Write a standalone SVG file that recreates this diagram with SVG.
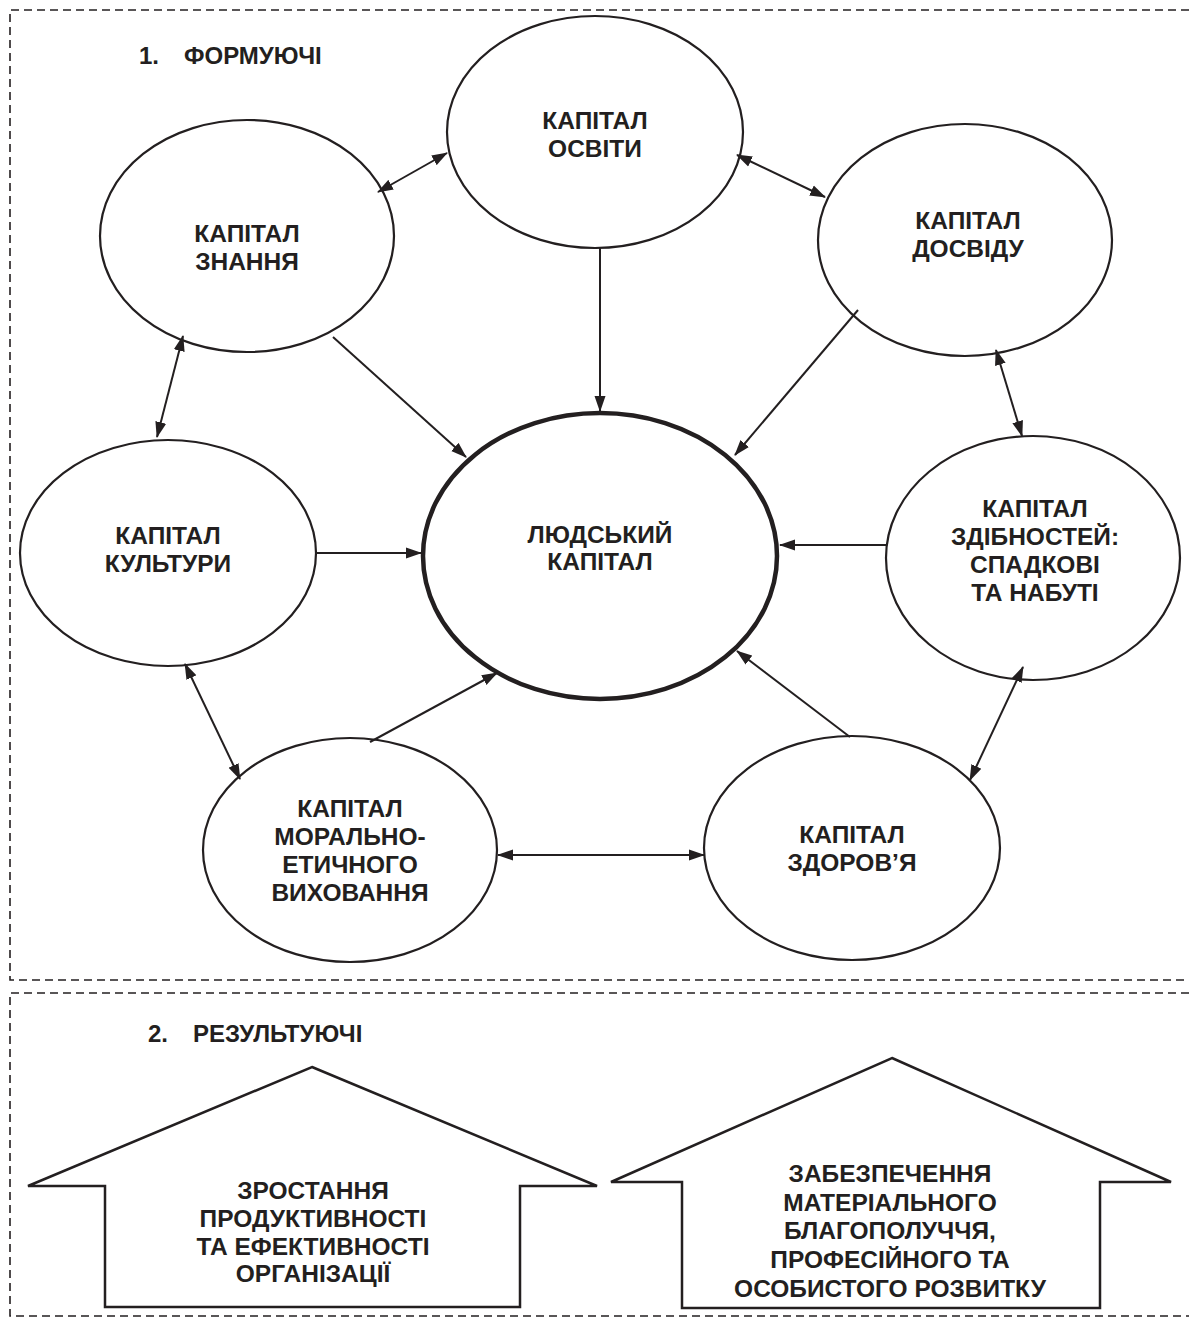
<svg xmlns="http://www.w3.org/2000/svg" width="1189" height="1324" viewBox="0 0 1189 1324">
<style>
.frame{fill:none;stroke:#231f20;stroke-width:1.6;stroke-dasharray:8 5}
.node{fill:#fff;stroke:#231f20;stroke-width:2.2}
.main{fill:#fff;stroke:#231f20;stroke-width:4.5}
.house{fill:#fff;stroke:#231f20;stroke-width:2.5;stroke-linejoin:miter}
.t{font-family:"Liberation Sans",Arial,sans-serif;font-weight:bold;font-size:24.5px;fill:#231f20;text-anchor:middle}
.h{font-family:"Liberation Sans",Arial,sans-serif;font-weight:bold;font-size:24px;fill:#231f20}
.c line{stroke:#231f20;stroke-width:2}
</style>
<defs>
<marker id="ah" markerUnits="userSpaceOnUse" markerWidth="17" markerHeight="12" refX="15" refY="6" orient="auto-start-reverse" viewBox="0 0 17 12">
<path d="M0,0.5 L16,6 L0,11.5 Z" fill="#231f20"/>
</marker>
</defs>
<rect width="1189" height="1324" fill="#fff"/>
<path class="frame" d="M1189,10 H10 V980 H1189"/>
<path class="frame" d="M1189,993 H10 V1316 H1189"/>
<text class="h" x="139" y="64">1.</text>
<text class="h" x="184" y="64">ФОРМУЮЧІ</text>
<text class="h" x="148" y="1042">2.</text>
<text class="h" x="193" y="1042">РЕЗУЛЬТУЮЧІ</text>
<g id="osvita"><ellipse class="node" cx="595" cy="132" rx="148" ry="116"/><text class="t" x="595" y="129">КАПІТАЛ</text><text class="t" x="595" y="157">ОСВІТИ</text></g>
<g id="znannia"><ellipse class="node" cx="247" cy="236" rx="147" ry="116"/><text class="t" x="247" y="242">КАПІТАЛ</text><text class="t" x="247" y="270">ЗНАННЯ</text></g>
<g id="dosvid"><ellipse class="node" cx="965" cy="240" rx="147" ry="116"/><text class="t" x="968" y="229">КАПІТАЛ</text><text class="t" x="968" y="257">ДОСВІДУ</text></g>
<g id="kultura"><ellipse class="node" cx="168" cy="553" rx="148" ry="113"/><text class="t" x="168" y="544">КАПІТАЛ</text><text class="t" x="168" y="572">КУЛЬТУРИ</text></g>
<g id="liudskyi"><ellipse class="main" cx="600" cy="556" rx="177" ry="143"/><text class="t" x="600" y="543">ЛЮДСЬКИЙ</text><text class="t" x="600" y="570">КАПІТАЛ</text></g>
<g id="zdibnosti"><ellipse class="node" cx="1033" cy="558" rx="147" ry="122"/><text class="t" x="1035" y="517">КАПІТАЛ</text><text class="t" x="1035" y="545">ЗДІБНОСТЕЙ:</text><text class="t" x="1035" y="573">СПАДКОВІ</text><text class="t" x="1035" y="601">ТА НАБУТІ</text></g>
<g id="moral"><ellipse class="node" cx="350" cy="850" rx="147" ry="112"/><text class="t" x="350" y="817">КАПІТАЛ</text><text class="t" x="350" y="845">МОРАЛЬНО-</text><text class="t" x="350" y="873">ЕТИЧНОГО</text><text class="t" x="350" y="901">ВИХОВАННЯ</text></g>
<g id="zdorovia"><ellipse class="node" cx="852" cy="848" rx="148" ry="112"/><text class="t" x="852" y="843">КАПІТАЛ</text><text class="t" x="852" y="871">ЗДОРОВ’Я</text></g>
<g id="result1"><path class="house" d="M312,1067 L597,1186 H520 V1307 H105 V1186 H28 Z"/><text class="t" x="313" y="1199">ЗРОСТАННЯ</text><text class="t" x="313" y="1227">ПРОДУКТИВНОСТІ</text><text class="t" x="313" y="1255">ТА ЕФЕКТИВНОСТІ</text><text class="t" x="313" y="1282">ОРГАНІЗАЦІЇ</text></g>
<g id="result2"><path class="house" d="M892,1058 L1171,1182 H1100 V1308 H682 V1182 H611 Z"/><text class="t" x="890" y="1182">ЗАБЕЗПЕЧЕННЯ</text><text class="t" x="890" y="1211">МАТЕРІАЛЬНОГО</text><text class="t" x="890" y="1239">БЛАГОПОЛУЧЧЯ,</text><text class="t" x="890" y="1268">ПРОФЕСІЙНОГО ТА</text><text class="t" x="890" y="1297">ОСОБИСТОГО РОЗВИТКУ</text></g>
<g class="c">
<line x1="600" y1="248" x2="600" y2="411" marker-end="url(#ah)"/>
<line x1="333" y1="337" x2="466" y2="457" marker-end="url(#ah)"/>
<line x1="858" y1="310" x2="735" y2="455" marker-end="url(#ah)"/>
<line x1="316" y1="553" x2="421" y2="553" marker-end="url(#ah)"/>
<line x1="886" y1="545" x2="780" y2="545" marker-end="url(#ah)"/>
<line x1="370" y1="742" x2="497" y2="673" marker-end="url(#ah)"/>
<line x1="850" y1="737" x2="737" y2="651" marker-end="url(#ah)"/>
<line x1="378" y1="192" x2="447" y2="153" marker-start="url(#ah)" marker-end="url(#ah)"/>
<line x1="737" y1="155" x2="825" y2="197" marker-start="url(#ah)" marker-end="url(#ah)"/>
<line x1="183" y1="336" x2="157" y2="437" marker-start="url(#ah)" marker-end="url(#ah)"/>
<line x1="996" y1="350" x2="1022" y2="436" marker-start="url(#ah)" marker-end="url(#ah)"/>
<line x1="185" y1="664" x2="240" y2="779" marker-start="url(#ah)" marker-end="url(#ah)"/>
<line x1="1023" y1="667" x2="970" y2="780" marker-start="url(#ah)" marker-end="url(#ah)"/>
<line x1="498" y1="855" x2="704" y2="855" marker-start="url(#ah)" marker-end="url(#ah)"/>
</g>
</svg>
